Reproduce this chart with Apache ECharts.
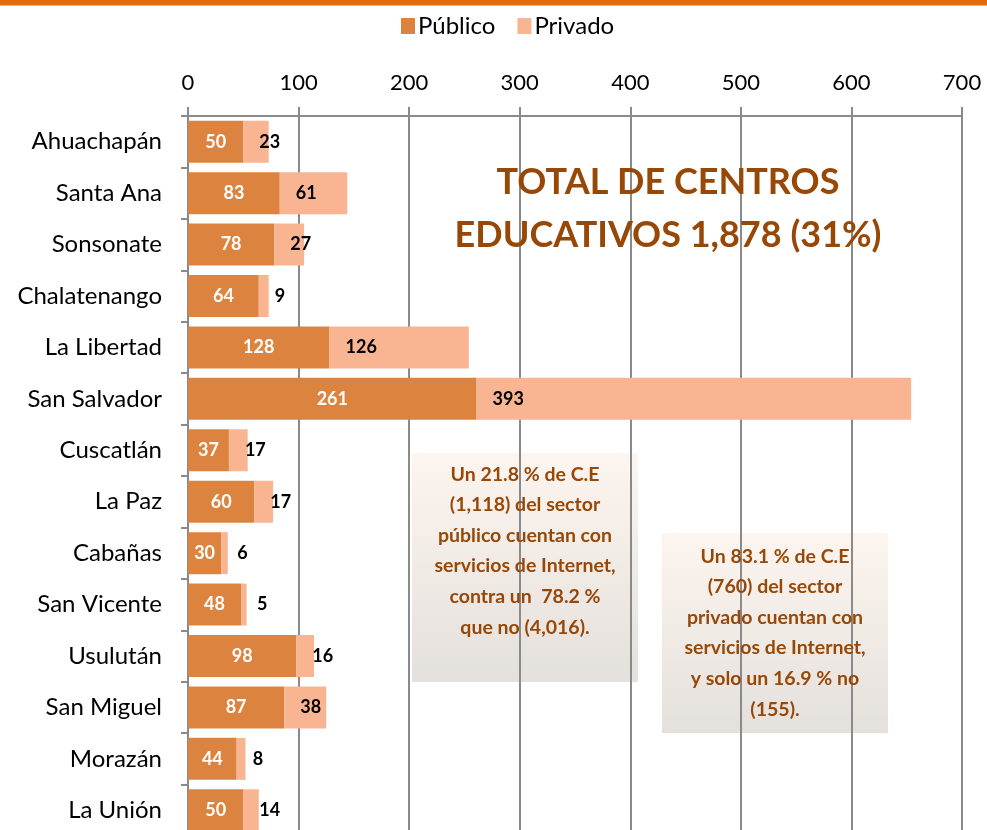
<!DOCTYPE html>
<html><head><meta charset="utf-8">
<script src="https://cdn.jsdelivr.net/npm/echarts@6/dist/echarts.min.js"></script>
<style>html,body{margin:0;padding:0;background:#fff;overflow:hidden}#c{width:987px;height:850px}</style>
</head><body><div id="c"></div>
<script>
const categories = ["Ahuachapán","Santa Ana","Sonsonate","Chalatenango","La Libertad","San Salvador","Cuscatlán","La Paz","Cabañas","San Vicente","Usulután","San Miguel","Morazán","La Unión"];
const publico = [50,83,78,64,128,261,37,60,30,48,98,87,44,50];
const privado = [23,61,27,9,126,393,17,17,6,5,16,38,8,14];
const seriesNames = ["Público","Privado"];
const titleLines = ["TOTAL DE CENTROS","EDUCATIVOS 1,878 (31%)"];
const note1 = ["Un 21.8 % de C.E","(1,118) del sector","público cuentan con","servicios de Internet,","contra un  78.2 %","que no (4,016)."];
const note2 = ["Un 83.1 % de C.E","(760) del sector","privado cuentan con","servicios de Internet,","y solo un 16.9 % no","(155)."];

const FONT = 'Lato, "Open Sans", sans-serif';
const chart = echarts.init(document.getElementById('c'));
const grad = new echarts.graphic.LinearGradient(0,0,0,1,[{offset:0,color:'#fdf5ef'},{offset:1,color:'#e4e0dc'}]);
const grad2 = new echarts.graphic.LinearGradient(0,0,0,1,[{offset:0,color:'#fdf5ef'},{offset:1,color:'#e4e0dc'}]);
chart.setOption({
  animation:false,
  textStyle:{fontFamily:FONT},
  legend:{
    data:seriesNames, left:396, top:9, itemWidth:14, itemHeight:16, itemGap:22,
    icon:'rect', textStyle:{fontSize:24, color:'#000', fontFamily:FONT, padding:[0,0,0,-2]}
  },
  grid:{left:188, right:25, top:116, height:720},
  xAxis:{
    type:'value', position:'top', min:0, max:700, interval:100,
    axisLine:{show:true, lineStyle:{color:'#8a8a8a', width:2}},
    axisTick:{show:true, length:9, lineStyle:{color:'#8a8a8a', width:2}},
    splitLine:{show:true, lineStyle:{color:'#8a8a8a', width:2}},
    axisLabel:{fontSize:22, color:'#000', margin:22, fontFamily:FONT}
  },
  yAxis:{
    type:'category', inverse:true, data:categories,
    axisLine:{show:true, lineStyle:{color:'#8a8a8a', width:2}},
    axisTick:{show:true, length:7, lineStyle:{color:'#8a8a8a', width:2}},
    axisLabel:{fontSize:24, color:'#000', margin:26, fontFamily:FONT}
  },
  series:[
    {name:seriesNames[0], type:'bar', stack:'t', data:publico, barWidth:42,
     itemStyle:{color:'#dc843f'},
     label:{show:true, position:'inside', color:'#fff', fontWeight:'bold', fontSize:18, fontFamily:FONT}},
    {name:seriesNames[1], type:'bar', stack:'t', data:privado, barWidth:42,
     itemStyle:{color:'#f9b592'},
     label:{show:true, position:'insideLeft', distance:16, color:'#000', fontWeight:'bold', fontSize:18, fontFamily:FONT}}
  ],
  graphic:[
    {type:'rect', shape:{x:0,y:0,width:987,height:5}, style:{fill:'#e46c0a'}, z:100},
    {type:'rect', shape:{x:0,y:5,width:987,height:1}, style:{fill:'#f4b183'}, z:100},
    {type:'rect', shape:{x:412,y:453,width:226,height:229}, style:{fill:grad}, z:-1},
    {type:'rect', shape:{x:662,y:533,width:226,height:200}, style:{fill:grad2}, z:-1},
    {type:'text', x:668, y:182, z:100, style:{text:titleLines[0], fontSize:36, fontWeight:'bold', fill:'#984806', align:'center', verticalAlign:'middle', fontFamily:FONT}},
    {type:'text', x:668, y:235, z:100, style:{text:titleLines[1], fontSize:36, fontWeight:'bold', fill:'#984806', align:'center', verticalAlign:'middle', fontFamily:FONT}},
    {type:'text', x:525, y:459, z:100, style:{text:note1.join('\n'), lineHeight:30.6, fontSize:19.5, fontWeight:'bold', fill:'#984806', align:'center', verticalAlign:'top', fontFamily:FONT}},
    {type:'text', x:775, y:541, z:100, style:{text:note2.join('\n'), lineHeight:30.6, fontSize:19.5, fontWeight:'bold', fill:'#984806', align:'center', verticalAlign:'top', fontFamily:FONT}}
  ]
});
</script></body></html>
